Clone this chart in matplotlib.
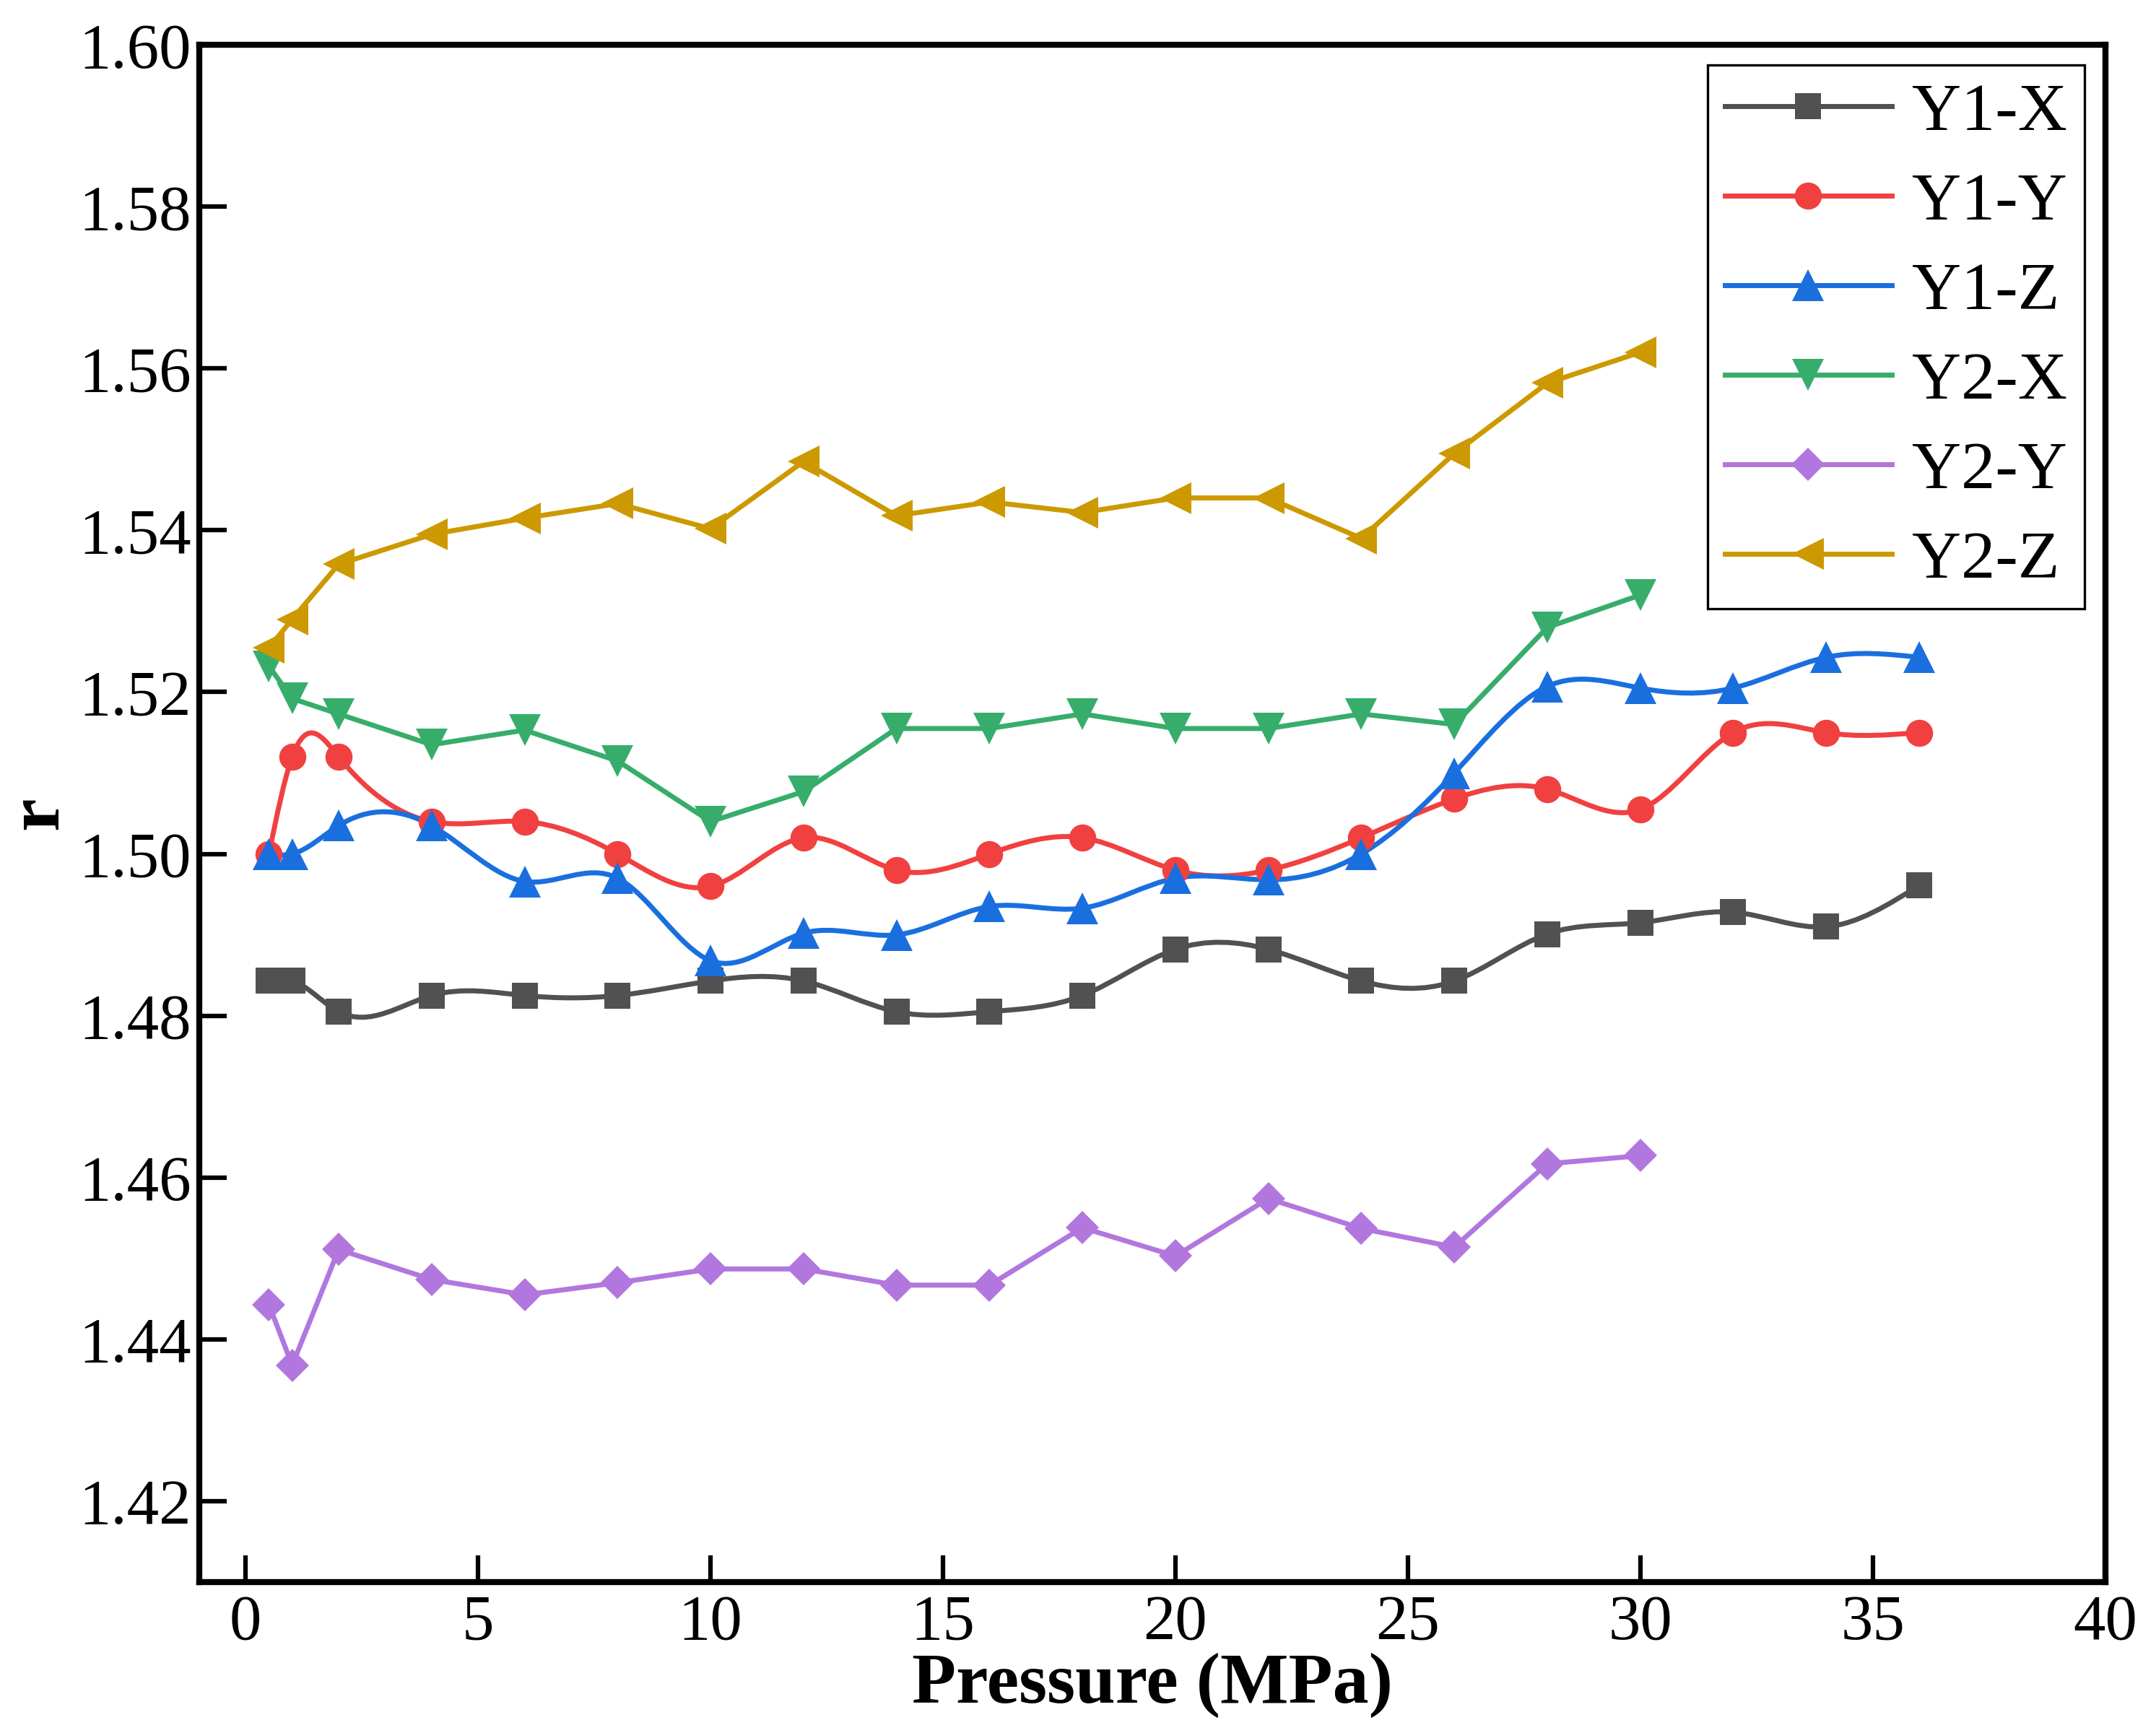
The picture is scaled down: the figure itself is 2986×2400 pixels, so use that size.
import numpy as np
import matplotlib
matplotlib.use("Agg")
import matplotlib.pyplot as plt
from matplotlib.path import Path
from matplotlib.patches import PathPatch
from matplotlib.lines import Line2D

plt.rcParams['font.family'] = ['Liberation Serif', 'DejaVu Serif']

# ---------------- data ----------------
x_long = [0.5, 1, 2, 4, 6, 8, 10, 12, 14, 16, 18, 20, 22, 24, 26, 28, 30, 32, 34, 36]
x_short = [0.5, 1, 2, 4, 6, 8, 10, 12, 14, 16, 18, 20, 22, 24, 26, 28, 30]

y1_x = [1.4843, 1.4843, 1.4805, 1.4825, 1.4825, 1.4825, 1.4843, 1.4843, 1.4805, 1.4805,
        1.4825, 1.4882, 1.4882, 1.4843, 1.4843, 1.4901, 1.4915, 1.4928, 1.4910, 1.4961]
y1_y = [1.5000, 1.5120, 1.5120, 1.5040, 1.5040, 1.5000, 1.4960, 1.5020, 1.4980, 1.5000,
        1.5020, 1.4980, 1.4980, 1.5020, 1.5068, 1.5080, 1.5055, 1.5150, 1.5150, 1.5150]
y1_z = [1.5000, 1.5000, 1.5035, 1.5035, 1.4966, 1.4970, 1.4868, 1.4902, 1.4900, 1.4935,
        1.4933, 1.4970, 1.4968, 1.5000, 1.5100, 1.5207, 1.5205, 1.5205, 1.5243, 1.5243]
y2_x = [1.5232, 1.5192, 1.5173, 1.5135, 1.5153, 1.5115, 1.5040, 1.5077, 1.5155, 1.5155,
        1.5173, 1.5155, 1.5155, 1.5173, 1.5160, 1.5280, 1.5320]
y2_y = [1.4443, 1.4368, 1.4511, 1.4474, 1.4455, 1.4470, 1.4487, 1.4487, 1.4467, 1.4467,
        1.4538, 1.4503, 1.4574, 1.4537, 1.4514, 1.4617, 1.4627]
y2_z = [1.5255, 1.5290, 1.5358, 1.5395, 1.5415, 1.5433, 1.5402, 1.5485, 1.5418, 1.5435,
        1.5422, 1.5440, 1.5440, 1.5390, 1.5495, 1.5582, 1.5620]

labels = ['Y1-X', 'Y1-Y', 'Y1-Z', 'Y2-X', 'Y2-Y', 'Y2-Z']
colors = ['#515151', '#F14040', '#1A6FDF', '#37AD6B', '#B177DE', '#CC9900']
markers = ['s', 'o', '^', 'v', 'D', '<']
msizes = [26, 27, 31, 31, 23, 31]
smooth = [True, True, True, False, False, False]

x_ticks = [0, 5, 10, 15, 20, 25, 30, 35, 40]
y_ticks = [1.42, 1.44, 1.46, 1.48, 1.50, 1.52, 1.54, 1.56, 1.58, 1.60]


def spline_path(xs, ys):
    """Natural cubic spline through the points, expressed as Bezier segments."""
    xs = np.asarray(xs, float)
    ys = np.asarray(ys, float)
    n = len(xs)
    h = np.diff(xs)
    A = np.zeros((n, n))
    b = np.zeros(n)
    A[0, 0] = 1
    A[-1, -1] = 1
    for i in range(1, n - 1):
        A[i, i - 1] = h[i - 1]
        A[i, i] = 2 * (h[i - 1] + h[i])
        A[i, i + 1] = h[i]
        b[i] = 6 * ((ys[i + 1] - ys[i]) / h[i] - (ys[i] - ys[i - 1]) / h[i - 1])
    M = np.linalg.solve(A, b)
    d = np.zeros(n)
    for i in range(n - 1):
        d[i] = (ys[i + 1] - ys[i]) / h[i] - h[i] * (2 * M[i] + M[i + 1]) / 6
    d[-1] = (ys[-1] - ys[-2]) / h[-1] + h[-1] * (M[-2] + 2 * M[-1]) / 6
    verts = [(xs[0], ys[0])]
    codes = [Path.MOVETO]
    for i in range(n - 1):
        hh = h[i]
        verts += [(xs[i] + hh / 3, ys[i] + d[i] * hh / 3),
                  (xs[i + 1] - hh / 3, ys[i + 1] - d[i + 1] * hh / 3),
                  (xs[i + 1], ys[i + 1])]
        codes += [Path.CURVE4] * 3
    return Path(verts, codes)


fig = plt.figure(figsize=(29.86, 24.0), dpi=100)
ax = fig.add_axes([0.0924, 0.0871, 0.884, 0.887])

series = [(x_long, y1_x), (x_long, y1_y), (x_long, y1_z),
          (x_short, y2_x), (x_short, y2_y), (x_short, y2_z)]

LW = 5.0
handles = []
for (xs, ys), lab, c, m, ms, sm in zip(series, labels, colors, markers, msizes, smooth):
    if sm:
        ax.add_patch(PathPatch(spline_path(xs, ys), fill=False, edgecolor=c, lw=LW,
                               capstyle='round', joinstyle='round'))
        ax.plot(xs, ys, linestyle='none', marker=m, color=c, markersize=ms,
                markeredgewidth=0)
    else:
        ax.plot(xs, ys, linestyle='-', lw=LW, marker=m, color=c, markersize=ms,
                markeredgewidth=0)
    handles.append(Line2D([], [], color=c, lw=LW, marker=m, markersize=ms,
                          markeredgewidth=0, label=lab))

ax.set_xlim(-1, 40)
ax.set_ylim(1.41, 1.60)
ax.set_xticks(x_ticks)
ax.set_yticks(y_ticks)
ax.set_xticklabels([str(v) for v in x_ticks])
ax.set_yticklabels(['%.2f' % v for v in y_ticks])

for sp in ax.spines.values():
    sp.set_linewidth(6.0)
ax.tick_params(axis='both', which='major', direction='in', length=27, width=4.5,
               labelsize=64, top=False, right=False)
ax.tick_params(axis='y', pad=8)
ax.tick_params(axis='x', pad=12)

ax.set_xlabel('Pressure (MPa)', fontsize=72, fontweight='bold', labelpad=0)
ax.set_ylabel('r', fontsize=74, fontweight='bold')
ax.yaxis.set_label_coords(-0.066, 0.5)

leg = ax.legend(handles=handles, loc='upper right', fontsize=68, frameon=True,
                fancybox=False, edgecolor='black', framealpha=1,
                borderaxespad=0.3, borderpad=0.25, handlelength=2.45,
                handletextpad=0.3, labelspacing=0.40)
leg.get_frame().set_linewidth(2.4)

fig.savefig('out.png', dpi=100)
